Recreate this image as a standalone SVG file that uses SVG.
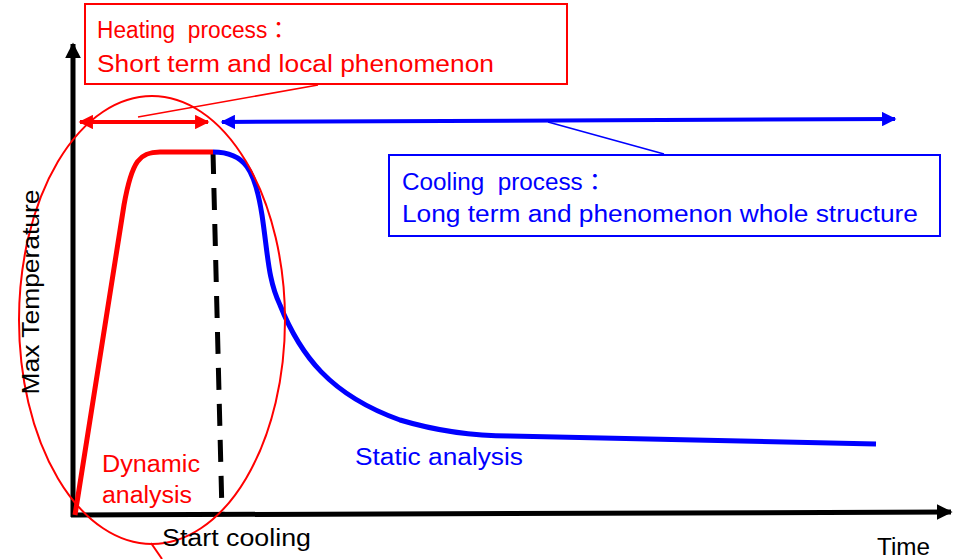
<svg xmlns="http://www.w3.org/2000/svg" width="954" height="559" viewBox="0 0 954 559">
<style>
text{font-family:"Liberation Sans","Noto Sans CJK JP",sans-serif;font-size:23px}
.r{fill:#ff0000}.b{fill:#0000ff}.k{fill:#000}
.pre{white-space:pre}
</style>
<defs>
<marker id="ak" viewBox="0 0 10 10" refX="9" refY="5" markerWidth="3.2" markerHeight="3.2" orient="auto"><path d="M0,0L10,5L0,10z" fill="#000"/></marker>
<marker id="ar" viewBox="0 0 10 10" refX="9" refY="5" markerWidth="4.5" markerHeight="3.6" orient="auto-start-reverse"><path d="M0,0L10,5L0,10z" fill="#ff0000"/></marker>
<marker id="ab" viewBox="0 0 10 10" refX="9" refY="5" markerWidth="4.5" markerHeight="3.6" orient="auto-start-reverse"><path d="M0,0L10,5L0,10z" fill="#0000ff"/></marker>
</defs>
<rect width="954" height="559" fill="#fff"/>
<g id="axes" stroke="#000" stroke-width="5" fill="none">
<line x1="73" y1="517" x2="73" y2="44" marker-end="url(#ak)"/>
<line x1="71" y1="515" x2="951" y2="512" marker-end="url(#ak)"/>
</g>
<g id="connectors" fill="none">
<line x1="213" y1="152" x2="222" y2="513" stroke="#000" stroke-width="5" stroke-dasharray="22 14"/>
<path d="M75,515 L124,205 C132,160 140,152 160,152 L213,152" stroke="#ff0000" stroke-width="5"/>
<path d="M213,152 C245,152 255,170 262,215 C268,255 268,280 280,305 C300,355 330,395 400,420 C440,432 480,436 510,436 L876,444" stroke="#0000ff" stroke-width="5"/>
<line x1="80" y1="122" x2="208" y2="122" stroke="#ff0000" stroke-width="4" marker-start="url(#ar)" marker-end="url(#ar)"/>
<line x1="222" y1="122" x2="895" y2="119" stroke="#0000ff" stroke-width="4" marker-start="url(#ab)" marker-end="url(#ab)"/>
<line x1="318" y1="85" x2="138" y2="117" stroke="#ff0000" stroke-width="1.5"/>
<line x1="548" y1="122" x2="664" y2="154" stroke="#0000ff" stroke-width="1.5"/>
<line x1="151" y1="543" x2="162" y2="559" stroke="#ff0000" stroke-width="2"/>
</g>
<g id="ellipse">
<ellipse cx="152" cy="320" rx="133" ry="224" fill="none" stroke="#ff0000" stroke-width="2"/>
</g>
<g id="heating">
<rect x="85" y="4" width="482" height="80" fill="#fff" stroke="#ff0000" stroke-width="2"/>
<text class="r pre" x="97" y="38" textLength="193" lengthAdjust="spacingAndGlyphs">Heating  process：</text>
<text class="r" x="97" y="72" textLength="397" lengthAdjust="spacingAndGlyphs">Short term and local phenomenon</text>
</g>
<g id="cooling">
<rect x="389" y="155" width="551" height="81" fill="#fff" stroke="#0000ff" stroke-width="2"/>
<text class="b pre" x="402" y="190" textLength="205" lengthAdjust="spacingAndGlyphs">Cooling  process：</text>
<text class="b" x="402" y="222" textLength="516" lengthAdjust="spacingAndGlyphs">Long term and phenomenon whole structure</text>
</g>
<g id="labels">
<text class="k" transform="translate(39,292) rotate(-90)" text-anchor="middle" textLength="205" lengthAdjust="spacingAndGlyphs">Max Temperature</text>
<text class="r" x="102" y="472" textLength="98" lengthAdjust="spacingAndGlyphs">Dynamic</text>
<text class="r" x="102" y="503" textLength="90" lengthAdjust="spacingAndGlyphs">analysis</text>
<text class="b" x="355" y="465" textLength="168" lengthAdjust="spacingAndGlyphs">Static analysis</text>
<text class="k" x="162" y="546" textLength="149" lengthAdjust="spacingAndGlyphs">Start cooling</text>
<text class="k" x="877" y="555" textLength="53" lengthAdjust="spacingAndGlyphs">Time</text>
</g>
</svg>
